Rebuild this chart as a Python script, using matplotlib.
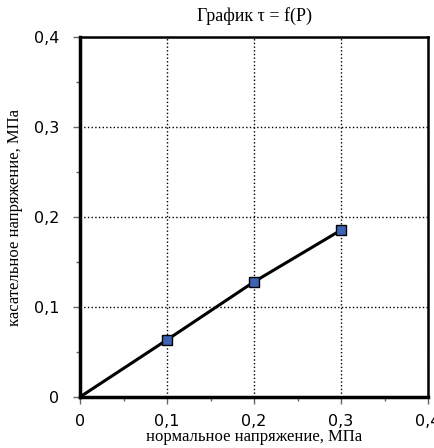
import matplotlib
matplotlib.use('Agg')
import matplotlib.pyplot as plt
from matplotlib.ticker import MultipleLocator, FuncFormatter

P = [0, 0.1, 0.2, 0.3]
tau = [0, 0.0635, 0.128, 0.1855]

fig = plt.figure(figsize=(4.35, 4.48), dpi=100)
ax = fig.add_axes([0.184, 0.114, 0.8, 0.803])

ax.plot(P, tau, color='black', linewidth=2.2, zorder=3)
ax.plot(P[1:], tau[1:], linestyle='none', marker='s', markersize=7,
        markerfacecolor='#3d63b3', markeredgecolor='black', markeredgewidth=1, zorder=4)

ax.set_xlim(0, 0.4)
ax.set_ylim(0, 0.4)
ax.xaxis.set_major_locator(MultipleLocator(0.1))
ax.yaxis.set_major_locator(MultipleLocator(0.1))
ax.xaxis.set_minor_locator(MultipleLocator(0.05))
ax.yaxis.set_minor_locator(MultipleLocator(0.05))
fmt = FuncFormatter(lambda v, pos: '0' if abs(v) < 1e-9 else f'{v:.1f}'.replace('.', ','))
ax.xaxis.set_major_formatter(fmt)
ax.yaxis.set_major_formatter(fmt)
ax.tick_params(which='major', direction='out', length=5, width=1, color='#666666', labelsize=11.5)
ax.tick_params(which='minor', direction='out', length=3, width=1, color='#666666')
ax.tick_params(axis='x', which='major', pad=7)
ax.tick_params(axis='y', which='major', pad=10)
for lbl in ax.get_xticklabels() + ax.get_yticklabels():
    lbl.set_family('DejaVu Sans')

ax.grid(True, which='major', linestyle=':', color='black', linewidth=1)
for s in ['left', 'bottom']:
    ax.spines[s].set_linewidth(2.5)
for s in ['top', 'right']:
    ax.spines[s].set_linewidth(1.8)

ax.set_title('График τ = f(P)', family='Liberation Serif', fontsize=13, pad=12)
ax.set_xlabel('нормальное напряжение, МПа', family='Liberation Serif', fontsize=12, labelpad=0)
ax.set_ylabel('касательное напряжение, МПа', family='Liberation Serif', fontsize=12, labelpad=8)

fig.savefig('out.png', dpi=100)
